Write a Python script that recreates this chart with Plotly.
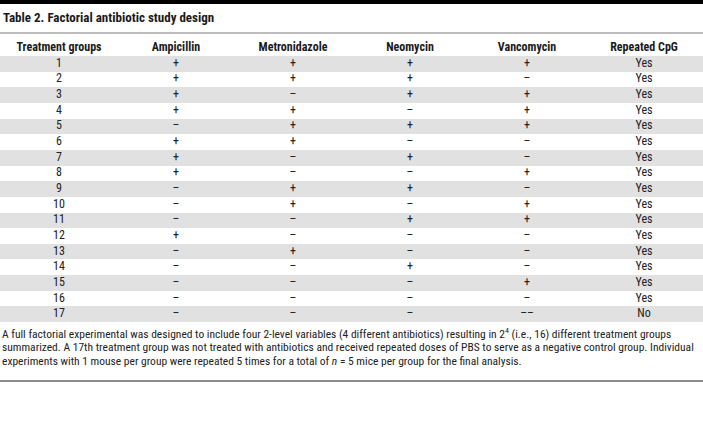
import plotly.graph_objects as go

# ---- data ----
columns = ["Treatment groups", "Ampicillin", "Metronidazole", "Neomycin", "Vancomycin", "Repeated CpG"]
groups = ["1", "2", "3", "4", "5", "6", "7", "8", "9", "10", "11", "12", "13", "14", "15", "16", "17"]
ampicillin = ["+", "+", "+", "+", "–", "+", "+", "+", "–", "–", "–", "+", "–", "–", "–", "–", "–"]
metronidazole = ["+", "+", "–", "+", "+", "+", "–", "–", "+", "+", "–", "–", "+", "–", "–", "–", "–"]
neomycin = ["+", "+", "+", "–", "+", "–", "+", "–", "+", "–", "+", "–", "–", "+", "–", "–", "–"]
vancomycin = ["+", "–", "+", "+", "+", "–", "–", "+", "–", "+", "+", "–", "–", "–", "+", "–", "––"]
repeated_cpg = ["Yes", "Yes", "Yes", "Yes", "Yes", "Yes", "Yes", "Yes", "Yes", "Yes", "Yes", "Yes",
                "Yes", "Yes", "Yes", "Yes", "No"]

title_text = "Table 2. Factorial antibiotic study design"
footnote_lines = [
    "A full factorial experimental was designed to include four 2-level variables (4 different antibiotics) "
    "resulting in 2<sup>4</sup> (i.e., 16) different treatment groups",
    "summarized. A 17th treatment group was not treated with antibiotics and received repeated doses of PBS "
    "to serve as a negative control group. Individual",
    "experiments with 1 mouse per group were repeated 5 times for a total of <i>n</i> = 5 mice per group "
    "for the final analysis.",
]

# ---- styling ----
W, H = 703, 436
FONT = "Roboto Condensed, Roboto, sans-serif"
SHADE = "#e1e1e1"
TEXT = "#222222"

table_values = [groups, ampicillin, metronidazole, neomycin, vancomycin, repeated_cpg]
row_numbers = [int(g) for g in groups]
row_colors = [SHADE if r % 2 == 1 else "rgba(0,0,0,0)" for r in row_numbers]

# axis ranges tuned so that one column = 117 px and one row = 15.65 px
x_range = [-0.504, 5.504]
y_range = [24.78, -3.077]

fig = go.Figure()

# row shading
fig.add_trace(go.Bar(
    orientation="h",
    y=row_numbers,
    x=[x_range[1] - x_range[0]] * len(row_numbers),
    base=x_range[0],
    width=1,
    marker=dict(color=row_colors, line=dict(width=0)),
    hoverinfo="skip",
    showlegend=False,
))

# header
fig.add_trace(go.Scatter(
    x=list(range(len(columns))),
    y=[0] * len(columns),
    text=["<b>%s</b>" % c for c in columns],
    mode="text",
    textposition="middle center",
    textfont=dict(family=FONT, size=12, color="#1a1a1a"),
    hoverinfo="skip",
    showlegend=False,
))

# cells
for j, col in enumerate(table_values):
    fig.add_trace(go.Scatter(
        x=[j] * len(col),
        y=row_numbers,
        text=col,
        mode="text",
        textposition="middle center",
        textfont=dict(family=FONT, size=12, color=TEXT),
        hoverinfo="skip",
        showlegend=False,
    ))

footnote_y = [333, 347, 361]
annotations = [
    dict(text="<b>%s</b>" % title_text, xref="paper", yref="paper", x=0, y=1 - 17.5 / H,
         xanchor="left", yanchor="middle", showarrow=False, xshift=1,
         font=dict(family=FONT, size=13, color="#1a1a1a")),
]
for line, yy in zip(footnote_lines, footnote_y):
    annotations.append(dict(text=line, xref="paper", yref="paper", x=0, y=1 - yy / H,
                            xanchor="left", yanchor="middle", align="left", showarrow=False,
                            font=dict(family=FONT, size=11.5, color=TEXT)))

fig.update_layout(
    width=W, height=H,
    margin=dict(l=0, r=0, t=0, b=0),
    paper_bgcolor="white",
    plot_bgcolor="white",
    bargap=0,
    xaxis=dict(range=x_range, visible=False, fixedrange=True),
    yaxis=dict(range=y_range, visible=False, fixedrange=True),
    shapes=[
        dict(type="line", xref="paper", yref="paper", x0=0, x1=1, y0=1 - 2 / H, y1=1 - 2 / H,
             line=dict(color="black", width=4)),
        dict(type="line", xref="paper", yref="paper", x0=0, x1=1, y0=1 - 33 / H, y1=1 - 33 / H,
             line=dict(color="#7a7a7a", width=1)),
        dict(type="line", xref="paper", yref="paper", x0=0, x1=1, y0=1 - 381 / H, y1=1 - 381 / H,
             line=dict(color="#666666", width=1.5)),
    ],
    annotations=annotations,
)

fig.write_html("out.html", config={"displayModeBar": False},
               post_script="document.body.style.margin='0px';")
